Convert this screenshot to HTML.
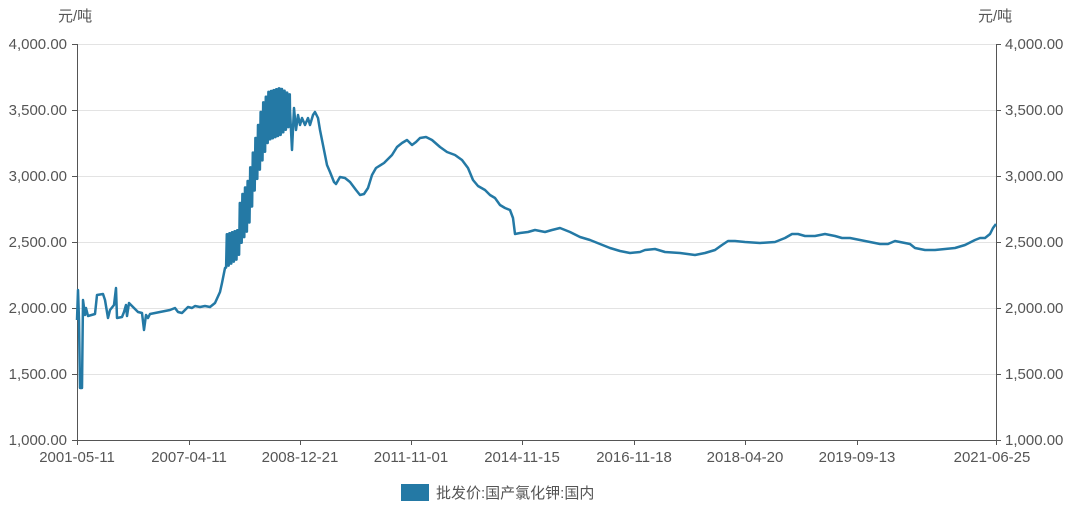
<!DOCTYPE html>
<html><head><meta charset="utf-8"><style>
body{margin:0;background:#fff;width:1080px;height:510px;overflow:hidden}
text{font-family:"Liberation Sans","Noto Sans CJK SC",sans-serif;fill:#555;font-size:15px}
</style></head><body>
<svg id="s" width="1080" height="510" xmlns="http://www.w3.org/2000/svg">
<g stroke="#e3e3e3" stroke-width="1">
<line x1="77" x2="996" y1="44.5" y2="44.5"/><line x1="77" x2="996" y1="110.5" y2="110.5"/>
<line x1="77" x2="996" y1="176.5" y2="176.5"/><line x1="77" x2="996" y1="242.5" y2="242.5"/>
<line x1="77" x2="996" y1="308.5" y2="308.5"/><line x1="77" x2="996" y1="374.5" y2="374.5"/>
</g>
<g stroke="#555" stroke-width="1">
<line x1="77.5" x2="77.5" y1="44" y2="440"/><line x1="996.5" x2="996.5" y1="44" y2="440"/>
<line x1="77" x2="996" y1="440.5" y2="440.5"/>
<path d="M72 44.5h5M72 110.5h5M72 176.5h5M72 242.5h5M72 308.5h5M72 374.5h5M72 440.5h5M996 44.5h5M996 110.5h5M996 176.5h5M996 242.5h5M996 308.5h5M996 374.5h5M996 440.5h5M77.5 440v5M189.5 440v5M300.5 440v5M411.5 440v5M522.5 440v5M634.5 440v5M745.5 440v5M857.5 440v5M996.5 440v5"/>
</g>
<text x="58" y="21">元/吨</text><text x="978" y="21">元/吨</text>
<g text-anchor="end">
<text x="67" y="49">4,000.00</text><text x="67" y="115">3,500.00</text><text x="67" y="181">3,000.00</text>
<text x="67" y="247">2,500.00</text><text x="67" y="313">2,000.00</text><text x="67" y="379">1,500.00</text><text x="67" y="445">1,000.00</text>
</g>
<g text-anchor="start">
<text x="1005" y="49">4,000.00</text><text x="1005" y="115">3,500.00</text><text x="1005" y="181">3,000.00</text>
<text x="1005" y="247">2,500.00</text><text x="1005" y="313">2,000.00</text><text x="1005" y="379">1,500.00</text><text x="1005" y="445">1,000.00</text>
</g>
<g text-anchor="middle">
<text x="77" y="462">2001-05-11</text><text x="189" y="462">2007-04-11</text><text x="300" y="462">2008-12-21</text>
<text x="411" y="462">2011-11-01</text><text x="522" y="462">2014-11-15</text><text x="634" y="462">2016-11-18</text>
<text x="745" y="462">2018-04-20</text><text x="857" y="462">2019-09-13</text><text x="992" y="462">2021-06-25</text>
</g>
<rect x="401" y="484" width="28" height="17" fill="#2479a5"/>
<text x="436" y="498">批发价:国产氯化钾:国内</text>
<polyline id="ln" fill="none" stroke="#2479a5" stroke-width="2.5" stroke-linejoin="round" points=""/>
</svg>
<script>
var a=[[77,320],[78,290],[79,320],[80,388],[82,388],[83,300],[85,315],[86,308],[88,316],[95,314],[97,295],[103,294],[105,300],[108,318],[110,310],[114,305],[116,288],[117,318],[122,317],[124,312],[126,305],[127,316],[129,303],[132,306],[138,312],[142,313],[144,330],[146,315],[148,318],[150,314],[155,313],[160,312],[170,310],[175,308],[178,312],[182,313],[188,307],[192,308],[195,306],[200,307],[205,306],[210,307],[215,303],[220,292],[222,283],[225,268]];
function interp(p,x){for(var i=0;i<p.length-1;i++){if(x<=p[i+1][0]){var t=(x-p[i][0])/(p[i+1][0]-p[i][0]);return p[i][1]+t*(p[i+1][1]-p[i][1]);}}return p[p.length-1][1];}
var U=[[225,235],[238,230],[240,200],[248,180],[255,140],[262,105],[268,92],[280,88],[290,95]];
var L=[[225,268],[238,258],[240,245],[248,228],[255,185],[262,160],[268,140],[280,135],[290,125]];
var k=0;for(var x=225.5;x<290;x+=1.3){var y=(k%2?interp(U,x):interp(L,x));a.push([x,y]);a.push([x+0.6,y]);k++;}
a=a.concat([[290,110],[292,150],[294,108],[296,130],[298,115],[300,125],[302,118],[305,125],[308,118],[310,125],[313,115],[315,112],[318,118],[320,130],[324,150],[327,165],[330,172],[334,182],[336,184],[340,177],[345,178],[350,182],[356,190],[360,195],[364,194],[368,188],[372,175],[376,168],[384,163],[392,155],[397,147],[402,143],[407,140],[412,145],[416,142],[420,138],[426,137],[432,140],[440,147],[447,152],[455,155],[462,160],[468,168],[473,180],[478,186],[485,190],[490,195],[495,198],[500,205],[505,208],[510,210],[513,218],[515,234],[520,233],[528,232],[535,230],[545,232],[552,230],[560,228],[570,232],[580,237],[590,240],[600,244],[610,248],[620,251],[630,253],[640,252],[645,250],[655,249],[665,252],[680,253],[695,255],[705,253],[715,250],[722,245],[728,241],[735,241],[745,242],[760,243],[775,242],[785,238],[792,234],[798,234],[805,236],[815,236],[825,234],[835,236],[842,238],[850,238],[860,240],[870,242],[880,244],[888,244],[895,241],[900,242],[910,244],[915,248],[925,250],[935,250],[945,249],[955,248],[965,245],[975,240],[980,238],[985,238],[990,234],[993,228],[996,224]]);
document.getElementById('ln').setAttribute('points',a.map(function(p){return p[0].toFixed(1)+','+p[1].toFixed(1)}).join(' '));
</script>
</body></html>
